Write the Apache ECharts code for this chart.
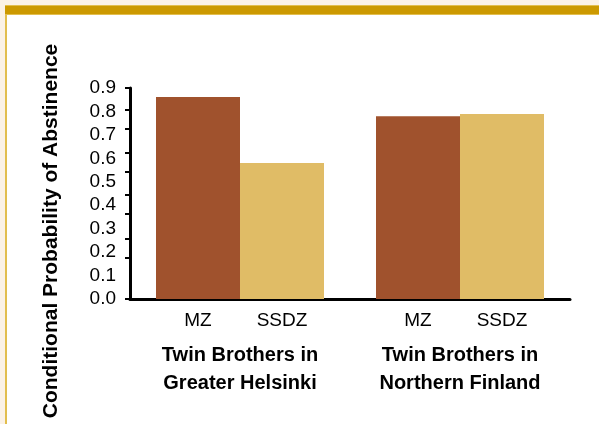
<!DOCTYPE html>
<html>
<head>
<meta charset="utf-8">
<script src="https://cdn.jsdelivr.net/npm/echarts@6/dist/echarts.min.js"></script>
<style>
html,body{margin:0;padding:0;background:#FBF2E6;}
#frame{position:absolute;left:0;top:0;width:599px;height:424px;background:#FBF2E6;}
#panel{position:absolute;left:5px;top:5px;right:0;bottom:0;background:#ffffff;border-left:2px solid #E2BE4E;}
#bar{position:absolute;left:5px;top:5px;right:0;height:10px;background:#CC9900;border-top:1px solid #E2BE4E;border-bottom:1px solid #E2BE4E;box-sizing:border-box;}
#chart{position:absolute;left:0;top:0;width:599px;height:424px;}
</style>
</head>
<body>
<div id="frame"><div id="panel"></div><div id="bar"></div></div>
<div id="chart"></div>
<script>
// Data
const groups = ["Twin Brothers in\nGreater Helsinki", "Twin Brothers in\nNorthern Finland"];
const seriesNames = ["MZ", "SSDZ"];
const mzValues = [0.862, 0.78];
const ssdzValues = [0.58, 0.789];
const yTickLabels = [0, 0.1, 0.2, 0.3, 0.4, 0.5, 0.6, 0.7, 0.8, 0.9];
const yTickMarks = [0, 0.175, 0.256, 0.363, 0.444, 0.542, 0.623, 0.725, 0.806, 0.9];
const yTitle = "Conditional Probability of Abstinence";

const chart = echarts.init(document.getElementById('chart'), null, {renderer: 'canvas'});
const font = 'Liberation Sans, Arial, sans-serif';
const colors = ['#A0522D', '#E0BC66'];

const option = {
  backgroundColor: 'transparent',
  animation: false,
  grid: {left: 130, right: 29, top: 88, bottom: 125, containLabel: false},
  xAxis: {
    type: 'category',
    data: groups,
    axisLine: {lineStyle: {color: '#000', width: 3}},
    axisTick: {show: false},
    axisLabel: {
      margin: 42, color: '#000', fontFamily: font, fontWeight: 'bold',
      fontSize: 20, lineHeight: 28, interval: 0
    }
  },
  yAxis: {
    type: 'value', min: 0, max: 0.9, interval: 0.1,
    splitLine: {show: false},
    axisLine: {show: true, lineStyle: {color: '#000', width: 3}},
    axisTick: {show: true, length: 5, inside: false, lineStyle: {color: '#000', width: 2}, customValues: yTickMarks},
    axisLabel: {
      margin: 14, color: '#000', fontFamily: font, fontSize: 19,
      customValues: yTickLabels,
      formatter: v => v.toFixed(1)
    }
  },
  series: [
    {name: seriesNames[0], type: 'bar', data: mzValues, barWidth: 84, barGap: '0%',
     itemStyle: {color: colors[0]},
     label: {show: true, position: 'bottom', distance: 12, formatter: '{a}', color: '#000', fontFamily: font, fontSize: 19}},
    {name: seriesNames[1], type: 'bar', data: ssdzValues, barWidth: 84, barGap: '0%',
     itemStyle: {color: colors[1]},
     label: {show: true, position: 'bottom', distance: 12, formatter: '{a}', color: '#000', fontFamily: font, fontSize: 19}}
  ],
  graphic: [{
    type: 'text', x: 51, y: 231, rotation: Math.PI / 2,
    style: {text: yTitle, fill: '#000', font: 'bold 21px ' + font, textAlign: 'center', textVerticalAlign: 'middle'}
  }]
};
chart.setOption(option);
</script>
</body>
</html>
